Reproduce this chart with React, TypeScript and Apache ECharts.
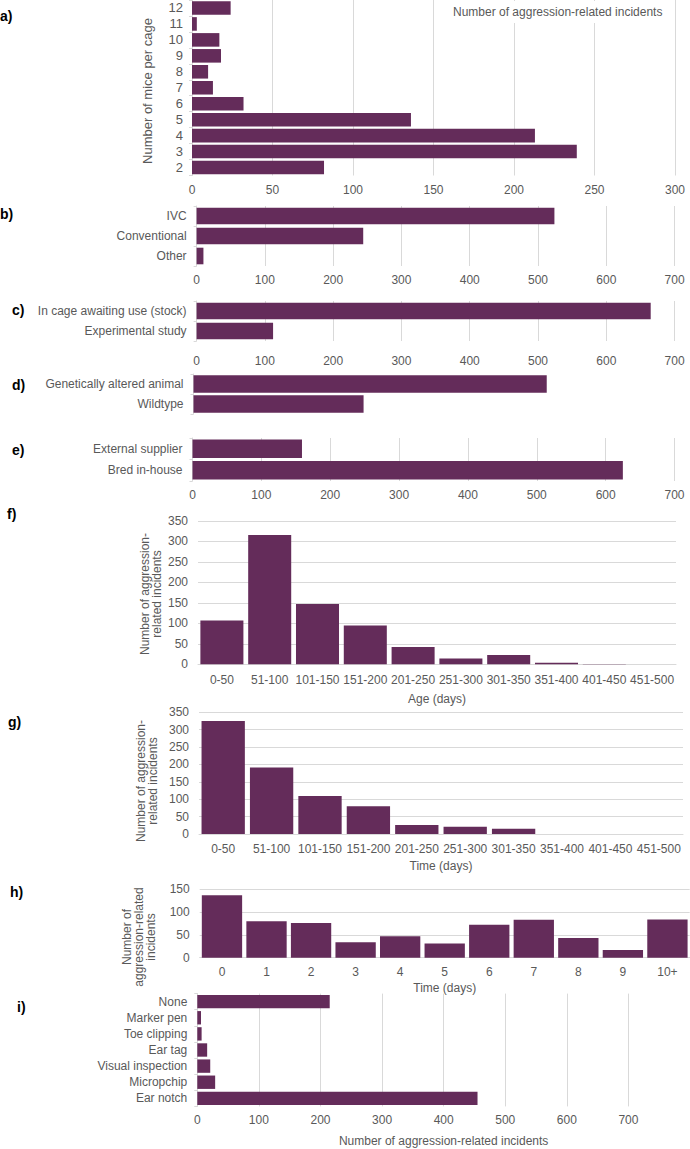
import React, { useEffect, useRef } from "react";
import * as echarts from "echarts";

// ---- data ----
const miceCats = ["2", "3", "4", "5", "6", "7", "8", "9", "10", "11", "12"];
const miceVals = [82, 239, 213, 136, 32, 13, 10, 18, 17, 3, 24];

const housingCats = ["Other", "Conventional", "IVC"];
const housingVals = [10, 244, 524];

const statusCats = ["Experimental study", "In cage awaiting use (stock)"];
const statusVals = [112, 665];

const genoCats = ["Wildtype", "Genetically altered animal"];
const genoVals = [247, 513];

const originCats = ["Bred in-house", "External supplier"];
const originVals = [625, 159];

const ageCats = ["0-50", "51-100", "101-150", "151-200", "201-250", "251-300", "301-350", "351-400", "401-450", "451-500"];
const ageVals = [107, 316, 147, 95, 42, 14, 23, 4, 1, 0];

const cageTimeCats = ["0-50", "51-100", "101-150", "151-200", "201-250", "251-300", "301-350", "351-400", "401-450", "451-500"];
const cageTimeVals = [325, 191, 109, 80, 26, 21, 15, 0, 0, 0];

const dayCats = ["0", "1", "2", "3", "4", "5", "6", "7", "8", "9", "10+"];
const dayVals = [137, 80, 76, 34, 47, 31, 72, 83, 43, 17, 84];

const idCats = ["Ear notch", "Micropchip", "Visual inspection", "Ear tag", "Toe clipping", "Marker pen", "None"];
const idVals = [455, 29, 21, 16, 7, 6, 215];

const panelLabels = ["a)", "b)", "c)", "d)", "e)", "f)", "g)", "h)", "i)"];
const incidentsName = "Number of aggression-related incidents";

// ---- styles ----
const FONT = "'Liberation Sans', Arial, Helvetica, sans-serif";
const TXT = "#595959";
const GRIDC = "#d9d9d9";
const BAR = "#642c5a";

function valAxis(gridIndex: number, max: number, interval: number, showLabel: boolean, showSplit: boolean, margin: number, extra: any = {}) {
  return {
    type: "value",
    gridIndex,
    min: 0,
    max,
    interval,
    axisLabel: { show: showLabel, margin, color: TXT, fontSize: 12, fontFamily: FONT, ...(extra.axisLabel || {}) },
    splitLine: { show: showSplit, lineStyle: { color: GRIDC, width: 1 } },
    axisLine: { show: false },
    axisTick: { show: false },
  };
}

function catAxisH(gridIndex: number, data: string[], margin: number, fontSize = 12) {
  return {
    type: "category",
    gridIndex,
    data,
    axisLabel: { color: TXT, fontSize, fontFamily: FONT, margin, interval: 0 },
    axisLine: { show: true, lineStyle: { color: GRIDC } },
    axisTick: { show: true, length: 3, lineStyle: { color: GRIDC } },
    splitLine: { show: false },
  };
}

function catAxisV(gridIndex: number, data: string[], margin: number, name: string, nameGap: number) {
  return {
    type: "category",
    gridIndex,
    data,
    name,
    nameLocation: "middle",
    nameGap,
    nameTextStyle: { color: TXT, fontSize: 12, fontFamily: FONT },
    axisLabel: { color: TXT, fontSize: 12, fontFamily: FONT, margin, interval: 0 },
    axisLine: { show: true, lineStyle: { color: GRIDC } },
    axisTick: { show: false },
    splitLine: { show: false },
  };
}

function barSeries(idx: number, data: number[], gap: string) {
  return {
    type: "bar",
    xAxisIndex: idx,
    yAxisIndex: idx,
    data,
    barCategoryGap: gap,
    itemStyle: { color: BAR },
    emphasis: { disabled: true },
  };
}

function label(text: string, x: number, y: number) {
  return {
    type: "text",
    x,
    y,
    style: { text, fill: "#000", fontSize: 14, fontWeight: "bold", fontFamily: FONT, align: "left", verticalAlign: "middle" },
    z: 10,
  };
}

function rotName(text: string, x: number, y: number, fontSize = 12) {
  return {
    type: "text",
    x,
    y,
    rotation: Math.PI / 2,
    style: { text, fill: TXT, fontSize, fontFamily: FONT, align: "center", verticalAlign: "middle", lineHeight: 12 },
    z: 10,
  };
}

export default function App() {
  const ref = useRef<HTMLDivElement>(null);
  useEffect(() => {
    if (!ref.current) return;
    const chart = echarts.init(ref.current, undefined, { renderer: "svg" });
    const option: any = {
      animation: false,
      backgroundColor: "#fff",
      textStyle: { fontFamily: FONT },
      title: [
        {
          text: incidentsName,
          left: 449,
          top: 1,
          padding: [5, 4, 5, 4],
          backgroundColor: "#fff",
          textStyle: { color: TXT, fontSize: 12, fontWeight: "normal", fontFamily: FONT },
        },
      ],
      grid: [
        { left: 192, top: 0, width: 483, height: 175.5 },
        { left: 196.6, top: 206, width: 478, height: 60 },
        { left: 196.6, top: 301, width: 478, height: 40 },
        { left: 193.5, top: 374, width: 482, height: 40 },
        { left: 192.5, top: 438, width: 482, height: 43 },
        { left: 198, top: 521, width: 478, height: 143.3 },
        { left: 199, top: 712.3, width: 484, height: 121.7 },
        { left: 199.7, top: 889.3, width: 490, height: 68.4 },
        { left: 197.3, top: 993.6, width: 495.7, height: 112.8 },
      ],
      xAxis: [
        valAxis(0, 300, 50, true, true, 8.5),
        valAxis(1, 700, 100, true, true, 8),
        valAxis(2, 700, 100, true, true, 14),
        valAxis(3, 700, 100, false, false, 8),
        valAxis(4, 700, 100, true, true, 8),
        catAxisV(5, ageCats, 9.5, "Age (days)", 28.5),
        catAxisV(6, cageTimeCats, 9, "Time (days)", 26),
        catAxisV(7, dayCats, 8, "Time (days)", 24.5),
        {
          ...valAxis(8, 800, 100, true, true, 7.5, { axisLabel: { showMaxLabel: false } }),
          name: incidentsName,
          nameLocation: "middle",
          nameGap: 29,
          nameTextStyle: { color: TXT, fontSize: 12, fontFamily: FONT },
        },
      ],
      yAxis: [
        catAxisH(0, miceCats, 9, 13),
        catAxisH(1, housingCats, 10),
        catAxisH(2, statusCats, 10),
        catAxisH(3, genoCats, 10),
        catAxisH(4, originCats, 10),
        valAxis(5, 350, 50, true, true, 10),
        valAxis(6, 350, 50, true, true, 10),
        valAxis(7, 150, 50, true, true, 10),
        catAxisH(8, idCats, 10),
      ],
      series: [
        barSeries(0, miceVals, "15%"),
        barSeries(1, housingVals, "17%"),
        barSeries(2, statusVals, "17%"),
        barSeries(3, genoVals, "12%"),
        barSeries(4, originVals, "14%"),
        barSeries(5, ageVals, "10%"),
        barSeries(6, cageTimeVals, "10.5%"),
        barSeries(7, dayVals, "9.5%"),
        barSeries(8, idVals, "17%"),
      ],
      graphic: [
        label(panelLabels[0], 0, 16),
        label(panelLabels[1], 0, 214),
        label(panelLabels[2], 12, 310),
        label(panelLabels[3], 12, 385),
        label(panelLabels[4], 12, 450),
        label(panelLabels[5], 7, 514),
        label(panelLabels[6], 8, 722),
        label(panelLabels[7], 10, 892),
        label(panelLabels[8], 17, 1007),
        rotName("Number of mice per cage", 147.5, 91, 13),
        rotName("Number of aggression-\nrelated incidents", 151, 594),
        rotName("Number of aggression-\nrelated incidents", 147, 781),
        rotName("Number of\naggression-related\nincidents", 139, 937),
      ],
    };
    chart.setOption(option);
    return () => chart.dispose();
  }, []);
  return <div ref={ref} style={{ position: "absolute", left: 0, top: 0, width: 690, height: 1149 }} />;
}
